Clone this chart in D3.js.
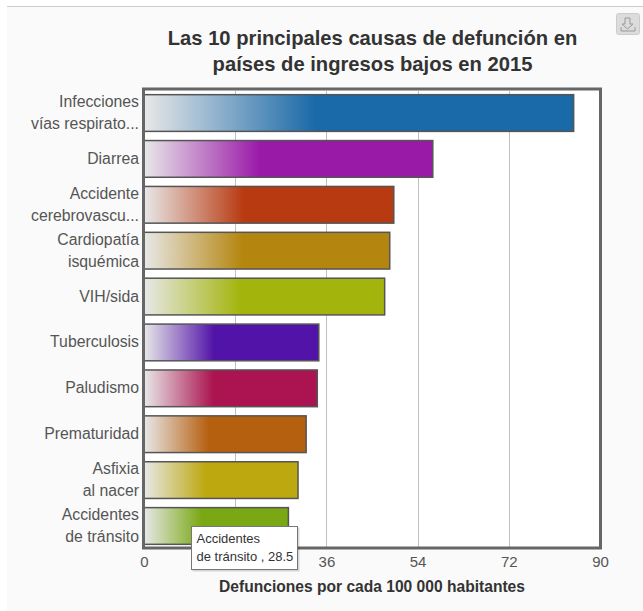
<!DOCTYPE html>
<html><head><meta charset="utf-8">
<script src="https://cdn.jsdelivr.net/npm/d3@7/dist/d3.min.js"></script>
<style>html,body{margin:0;padding:0;background:#fff}svg{display:block}text{font-family:"Liberation Sans",Arial,sans-serif}</style>
</head><body><svg id="c" width="643" height="611"></svg>
<script>
const categories = [["Infecciones","vías respirato..."],["Diarrea"],["Accidente","cerebrovascu..."],["Cardiopatía","isquémica"],["VIH/sida"],["Tuberculosis"],["Paludismo"],["Prematuridad"],["Asfixia","al nacer"],["Accidentes","de tránsito"]];
const values = [84.8,57,49.3,48.5,47.5,34.5,34.2,32,30.4,28.5];
const colors = ["#1a69a8","#9a1aa8","#b83a10","#b5860f","#a3b50c","#5214a8","#ab1450","#b5600f","#bda80f","#7aa814"];
const gridTicks = [18,36,54,72];
const xTicks = [0,36,54,72,90];
const titleLines = ["Las 10 principales causas de defunción en","países de ingresos bajos en 2015"];
const xTitle = "Defunciones por cada 100 000 habitantes";
const tipLines = ["Accidentes","de tránsito , 28.5"];

const svg = d3.select("#c");
const L=144,R=600,T=91,B=548;
const x = d3.scaleLinear().domain([0,90]).range([L,R]);
const y = d3.scaleBand().domain(d3.range(values.length)).range([T,B]).paddingInner(0.2).paddingOuter(0.08);

svg.append("rect").attr("x",7).attr("y",6).attr("width",636).attr("height",605).attr("fill","#fafafa");
svg.append("line").attr("x1",7).attr("x2",643).attr("y1",6.5).attr("y2",6.5).attr("stroke","#ccc");

const defs = svg.append("defs");
colors.forEach((c,i)=>{
  const g = defs.append("linearGradient").attr("id","g"+i);
  g.append("stop").attr("offset","0%").attr("stop-color","#e8e8e8");
  g.append("stop").attr("offset","40%").attr("stop-color",c);
  g.append("stop").attr("offset","100%").attr("stop-color",c);
});

svg.append("rect").attr("x",L).attr("y",T-2).attr("width",R-L).attr("height",B-T+2).attr("fill","#fff");
svg.append("g").selectAll("line").data(gridTicks).join("line")
  .attr("x1",d=>Math.round(x(d))+.5).attr("x2",d=>Math.round(x(d))+.5).attr("y1",T).attr("y2",B)
  .attr("stroke","#c0c0c0");

svg.append("g").selectAll("rect").data(values).join("rect")
  .attr("x",L).attr("y",(d,i)=>y(i)).attr("width",d=>x(d)-L).attr("height",y.bandwidth())
  .attr("fill",(d,i)=>`url(#g${i})`)
  .attr("stroke","#555").attr("stroke-width",1.5);

svg.append("rect").attr("x",L-.5).attr("y",T-2).attr("width",R-L+1).attr("height",B-T+2)
  .attr("fill","none").attr("stroke","#666").attr("stroke-width",3);

const cat = svg.append("g").selectAll("text").data(categories).join("text")
  .attr("text-anchor","end").attr("font-size",15.8).attr("fill","#555");
cat.each(function(d,i){
  const cy = y(i)+y.bandwidth()/2;
  d.forEach((t,j)=>d3.select(this).append("tspan").attr("x",139)
    .attr("y",cy+5+(j-(d.length-1)/2)*22).text(t));
});

const axis = d3.axisBottom(x).tickValues(xTicks).tickSize(0).tickPadding(0);
const ag = svg.append("g").attr("transform",`translate(0,${B+6})`).call(axis);
ag.select(".domain").remove();
ag.selectAll("text").attr("font-size",15).attr("fill","#555").attr("font-family","Liberation Sans").attr("dy","0.85em");

svg.append("g").selectAll("text").data(titleLines).join("text")
  .attr("x",372.500).attr("y",(d,i)=>45+i*26).attr("text-anchor","middle")
  .attr("font-size",20.2).attr("font-weight","bold").attr("fill","#333").text(d=>d);
svg.append("text").attr("x",372).attr("y",592).attr("text-anchor","middle")
  .attr("font-size",15.6).attr("font-weight","bold").attr("fill","#333").text(xTitle);

const tip = svg.append("g");
tip.append("rect").attr("x",191.5).attr("y",526.5).attr("width",107).attr("height",44).attr("fill","#000").attr("opacity",.15).attr("transform","translate(1,1)");
tip.append("rect").attr("x",191.5).attr("y",526.5).attr("width",106).attr("height",43).attr("fill","#fff").attr("stroke","#777");
tip.selectAll("text").data(tipLines).join("text").attr("x",196.5).attr("y",(d,i)=>543+i*18)
  .attr("font-size",13).attr("fill","#333").text(d=>d);

const b = svg.append("g");
b.append("rect").attr("x",616.5).attr("y",13.5).attr("width",23).attr("height",21).attr("rx",2).attr("fill","#dcdcdc").attr("stroke","#ccc");
b.append("path").attr("d","M625 18h5v6h3l-5.500 5l-5.500-5h3zM621 27v4h14v-4").attr("fill","none").attr("stroke","#999");
</script></body></html>
